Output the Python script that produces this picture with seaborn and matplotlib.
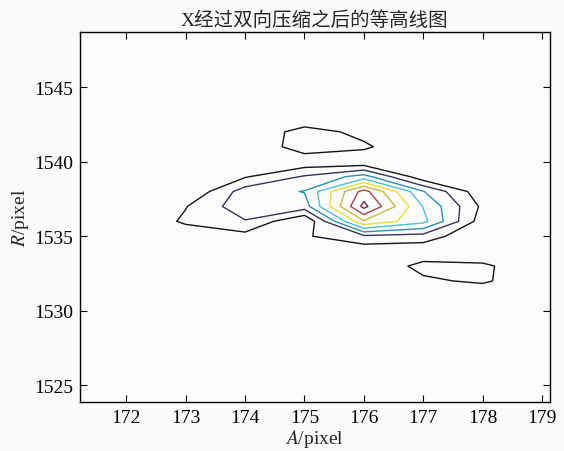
import numpy as np
import matplotlib
matplotlib.use("Agg")
import matplotlib.pyplot as plt
import seaborn as sns

# grid (pixel coordinates)
a_pixels = [172, 173, 174, 175, 176, 177, 178, 179]
r_pixels = [1530, 1531, 1532, 1533, 1534, 1535, 1536, 1537,
            1538, 1539, 1540, 1541, 1542, 1543, 1544]

# intensity after compression, one row per R value (bottom to top)
row_1530 = [0, 0, 0, 0, 0, 0, 0, 0]
row_1531 = [0, 0, 0, 0, 0, 0, 0, 0]
row_1532 = [0, 0, 0, 0, 0, 0.8, 1.2, 0]
row_1533 = [0, 0, 0, 0, 0, 1.35, 1.25, 0]
row_1534 = [0, 0, 0, 0, 0.3, 0.2, 0, 0]
row_1535 = [0, 0.3, 0.64, 0.87, 1.8, 1.6, 0, 0]
row_1536 = [0, 1.18, 1.93, 0, 5.9, 4.3, 0.43, 0]
row_1537 = [0, 0.95, 2.65, 2.5, 8.3, 3.95, 0.78, 0]
row_1538 = [0, 0, 2.5, 3.05, 7.4, 3.05, 0.3, 0]
row_1539 = [0, 0, 0.9, 2.1, 3.4, 0.3, 0, 0]
row_1540 = [0, 0, 0, 0.3, 0.2, 0, 0, 0]
row_1541 = [0, 0, 0, 1.6, 1.19, 0, 0, 0]
row_1542 = [0, 0, 0, 1.5, 0.67, 0, 0, 0]
row_1543 = [0, 0, 0, 0, 0, 0, 0, 0]
row_1544 = [0, 0, 0, 0, 0, 0, 0, 0]

levels = [1, 2, 3, 4, 5, 6, 7, 8]
level_colors = ["#151515", "#33335e", "#2a93b0", "#4cc2d2",
                "#e9e12e", "#cdb93c", "#a2464c", "#74293c"]

Z = np.array([row_1530, row_1531, row_1532, row_1533, row_1534, row_1535,
              row_1536, row_1537, row_1538, row_1539, row_1540, row_1541,
              row_1542, row_1543, row_1544])

sns.set_style("ticks")
plt.rcParams["font.family"] = ["Liberation Serif", "Noto Sans CJK SC"]
plt.rcParams["mathtext.fontset"] = "stix"

fig = plt.figure(figsize=(5.64, 4.52), dpi=100, facecolor="#fbfbfb")
ax = fig.add_axes([0.1418, 0.1084, 0.833, 0.8186], facecolor="#fcfcfc")

ax.contour(a_pixels, r_pixels, Z, levels=levels, colors=level_colors,
           linewidths=1.0)

ax.set_xlim(171.22, 179.13)
ax.set_ylim(1523.88, 1548.7)
ax.set_xticks(range(172, 180))
ax.set_yticks(range(1525, 1546, 5))

ax.tick_params(direction="in", length=5, width=0.8, top=True, right=True,
               labelsize=14, pad=5, colors="black")
for s in ax.spines.values():
    s.set_color("black")
    s.set_linewidth(1.0)

ax.set_title("X经过双向压缩之后的等高线图", fontsize=14, pad=5)
ax.set_xlabel(r"$A$/pixel", fontsize=14, labelpad=1)
ax.set_ylabel(r"$R$/pixel", fontsize=14, labelpad=2)

fig.savefig("out.png", dpi=100, facecolor=fig.get_facecolor())
